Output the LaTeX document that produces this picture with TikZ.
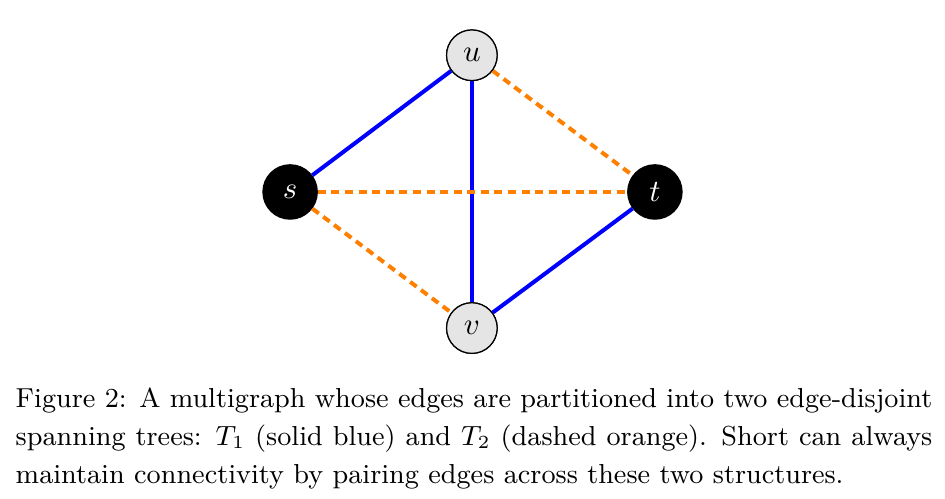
\documentclass[tikz,border=0pt]{standalone}
\begin{document}
\begin{tikzpicture}[x=1pt,y=1pt,
  light/.style={circle,draw,fill=black!10,minimum size=16.4pt,inner sep=0pt},
  dark/.style={circle,draw,fill=black,text=white,minimum size=17.6pt,inner sep=0pt},
  tone/.style={blue,line width=1.3pt},
  ttwo/.style={orange,line width=1.3pt,dash pattern=on 2.6pt off 1.8pt}]
\useasboundingbox (0,0) rectangle (306.2,161.4);
\node[light] (u) at (152.9,143.5) {$u$};
\node[dark] (s) at (94.0,99.2) {$s$};
\node[dark] (t) at (212.2,99.2) {$t$};
\node[light] (v) at (152.9,55.1) {$v$};
\draw[tone] (s) -- (u);
\draw[tone] (u) -- (v);
\draw[tone] (v) -- (t);
\draw[ttwo] (u) -- (t);
\draw[ttwo] (s) -- (t);
\draw[ttwo] (s) -- (v);
\node[light] at (u) {$u$};
\node[light] at (v) {$v$};
\node[anchor=north west,inner sep=0pt,text width=297pt,align=justify,font=\fontsize{8.9pt}{12.3pt}\selectfont] (cap) at (4.9,35.8)
{Figure 2: A multigraph whose edges are partitioned into two edge-disjoint spanning trees: $T_1$ (solid blue) and $T_2$ (dashed orange). Short can always maintain connectivity by pairing edges across these two structures.};
\end{tikzpicture}
\end{document}
